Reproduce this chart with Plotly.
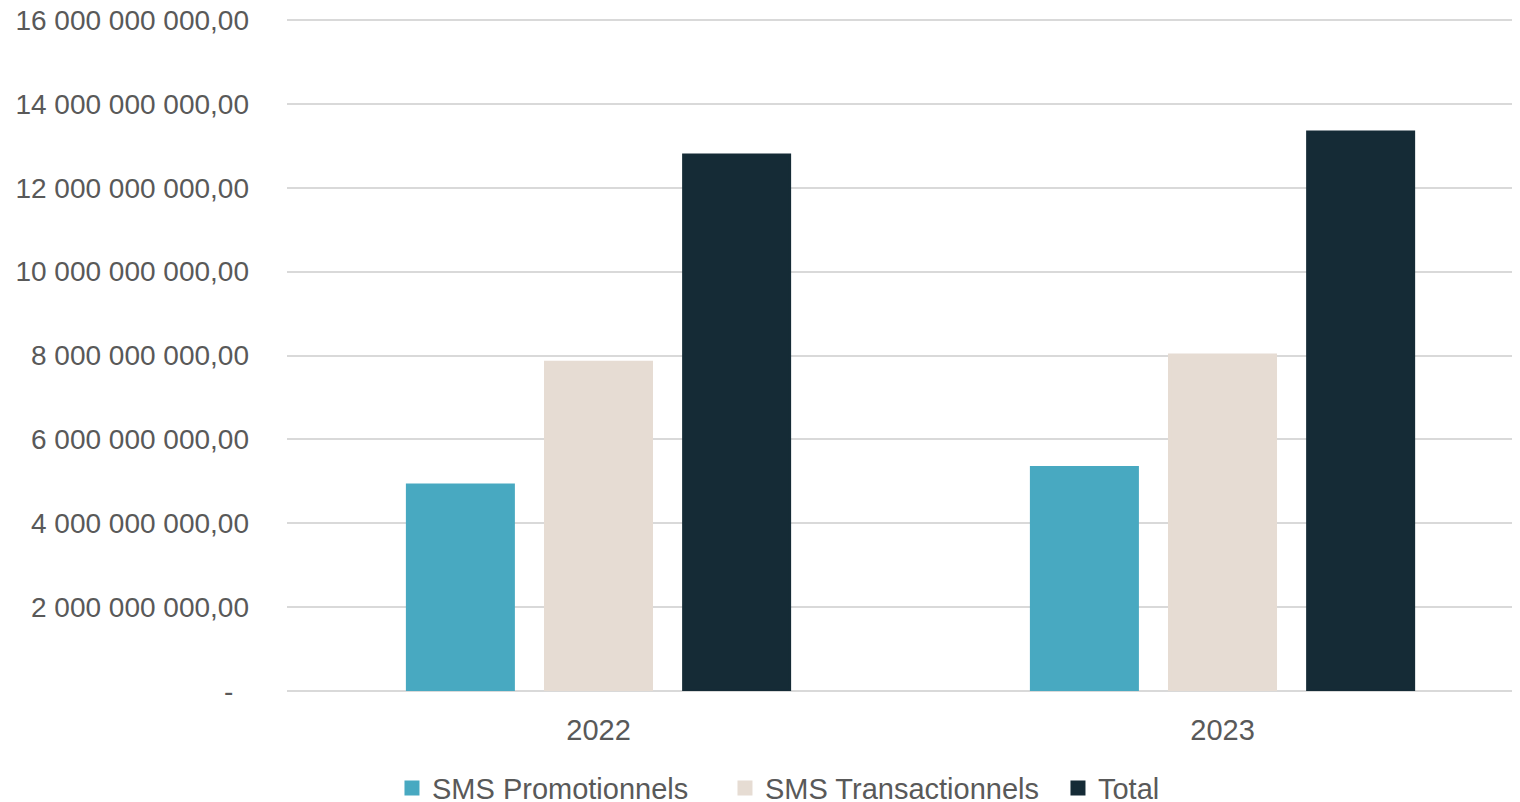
import plotly.graph_objects as go

years = ["2022", "2023"]
promo = [4.91e9, 5.33e9]
trans = [7.84e9, 8.01e9]
total = [12.78e9, 13.33e9]
series_names = ["SMS Promotionnels", "SMS Transactionnels", "Total"]
colors = ["#48A9C1", "#E6DCD3", "#152B36"]
tick_vals = [0, 2e9, 4e9, 6e9, 8e9, 10e9, 12e9, 14e9, 16e9]
NB = "\u00a0"


def fmt(v):
    if v == 0:
        return "-" + NB * 2
    s = f"{int(v):,}".replace(",", NB)
    return s + ",00"


tick_text = [fmt(v) for v in tick_vals]

fig = go.Figure()
for name, vals, c in zip(series_names, [promo, trans, total], colors):
    fig.add_trace(go.Bar(x=years, y=vals, name=name, marker=dict(color=c, line=dict(width=3, color=c))))

fam = "Liberation Sans, Arial, sans-serif"
ytick_font = dict(family=fam, size=28, color="#595959")
font = dict(family=fam, size=29, color="#595959")
fig.update_layout(
    width=1504, height=794,
    paper_bgcolor="white", plot_bgcolor="white",
    margin=dict(l=279, r=0, t=10, b=111),
    barmode="group", bargap=0.336, bargroupgap=0.2325,
    font=font,
    showlegend=True,
    legend=dict(orientation="h", x=0.0857, xanchor="left", xref="paper",
                y=0.0175, yanchor="middle", yref="container",
                font=font, itemwidth=30, traceorder="normal",
                entrywidth=288, entrywidthmode="pixels"),
    xaxis=dict(showgrid=False, showline=False, ticks="", tickfont=font, ticklabelstandoff=19,
               range=[-0.4992, 1.4639], automargin=False),
    yaxis=dict(range=[0, 16.0477e9], tickvals=tick_vals, ticktext=tick_text, showgrid=True,
               gridcolor="#D9D9D9", gridwidth=1.5, zeroline=True, zerolinecolor="#D9D9D9",
               zerolinewidth=1.5, showline=False, ticks="", tickfont=ytick_font,
               ticklabelstandoff=37, automargin=False, ticklabeloverflow="allow"),
)
fig.write_html("out.html")
